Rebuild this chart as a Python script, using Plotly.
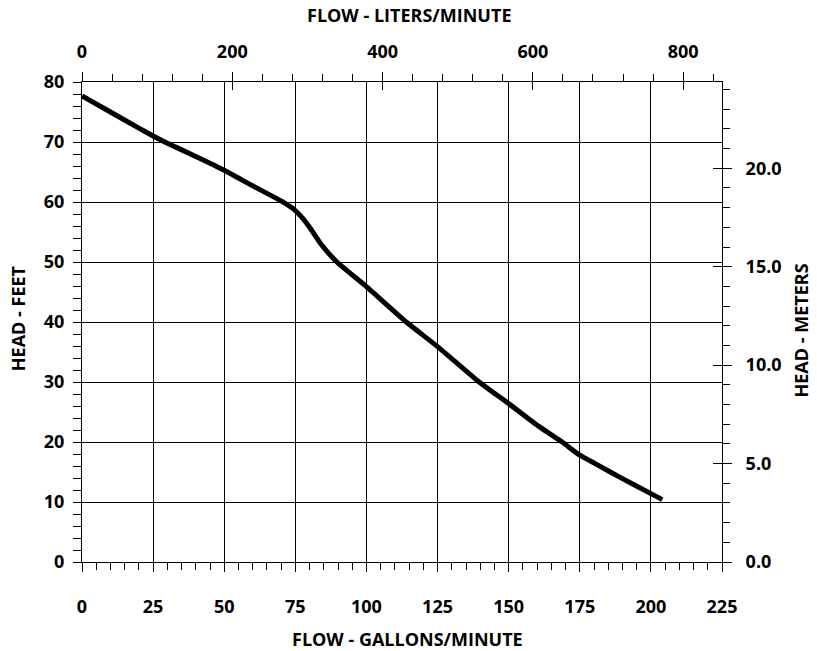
import plotly.graph_objects as go

# pump curve
gpm = [0, 10, 20, 25, 30, 40, 50, 60, 67.2, 71, 74.2, 77, 80, 84, 89.6,
       100, 114, 125, 139.6, 150, 160.6, 168.8, 175, 180.4, 190, 200, 204]
head_ft = [77.7, 75.0, 72.3, 71.0, 69.8, 67.6, 65.3, 62.7, 60.9, 59.9, 58.9,
           57.6, 55.8, 53.0, 50.0, 45.9, 40.0, 35.9, 30.0, 26.4, 22.6, 20.0,
           17.8, 16.4, 13.9, 11.4, 10.4]

L_PER_GAL = 3.78541
FT_PER_M = 3.28084
X_MAX = 225
Y_MAX = 80

FONT = "Open Sans"
tick_font = dict(family=FONT, size=18, color="black", weight="bold")
title_font = dict(family=FONT, size=18, color="black", weight="bold")

fig = go.Figure()
fig.add_trace(go.Scatter(x=gpm, y=head_ft, mode="lines",
                         line=dict(color="black", width=5, shape="spline", smoothing=0.5),
                         hoverinfo="skip", showlegend=False))
# invisible anchors so the metric axes get drawn
for ax in ("2", "3"):
    fig.add_trace(go.Scatter(x=[gpm[0] * L_PER_GAL], y=[head_ft[0] / FT_PER_M],
                             xaxis="x" + ax, yaxis="y" + ax, mode="markers",
                             marker=dict(opacity=0), hoverinfo="skip", showlegend=False))

common = dict(tickcolor="black", tickwidth=1, linecolor="black", linewidth=1,
              zeroline=False, tickfont=tick_font)

fig.update_layout(
    width=809, height=643,
    margin=dict(l=74, r=95, t=74, b=89),
    paper_bgcolor="white", plot_bgcolor="white",
    font=dict(family=FONT, color="black"),
    xaxis=dict(range=[0, X_MAX], dtick=25, showgrid=True, gridcolor="black", gridwidth=1,
               showline=True, ticks="outside", ticklen=9, ticklabelstandoff=19,
               minor=dict(dtick=5, ticks="outside", ticklen=7, tickcolor="black", showgrid=False),
               **common),
    yaxis=dict(range=[0, Y_MAX], dtick=10, showgrid=True, gridcolor="black", gridwidth=1,
               showline=True, ticks="outside", ticklen=8, ticklabelstandoff=5,
               minor=dict(dtick=2, ticks="outside", ticklen=8, tickcolor="black", showgrid=False),
               **common),
    xaxis2=dict(range=[0, X_MAX * L_PER_GAL], dtick=200, overlaying="x", side="top", anchor="y2",
                showgrid=False, showline=True, ticks="outside", ticklen=9, ticklabelstandoff=7,
                minor=dict(dtick=40, ticks="outside", ticklen=7, tickcolor="black", showgrid=False),
                **common),
    yaxis2=dict(range=[0, Y_MAX / FT_PER_M], dtick=5, tickformat=".1f", overlaying="y",
                side="right", anchor="x2", showgrid=False, showline=True, ticks="outside",
                ticklen=9, ticklabelstandoff=10,
                minor=dict(dtick=1, ticks="outside", ticklen=7, tickcolor="black", showgrid=False),
                **common),
    xaxis3=dict(range=[0, X_MAX * L_PER_GAL], dtick=200, overlaying="x", side="top", anchor="y3",
                showgrid=False, showline=False, showticklabels=False, ticks="inside",
                ticklen=8, tickcolor="black", zeroline=False),
    yaxis3=dict(range=[0, Y_MAX / FT_PER_M], dtick=5, overlaying="y", side="right", anchor="x3",
                showgrid=False, showline=False, showticklabels=False, ticks="inside",
                ticklen=9, tickcolor="black", zeroline=False),
    annotations=[
        dict(text="FLOW - GALLONS/MINUTE", xref="paper", yref="paper", x=0.509, y=-0.1604,
             showarrow=False, font=title_font, xanchor="center", yanchor="middle"),
        dict(text="FLOW - LITERS/MINUTE", xref="paper", yref="paper", x=0.511, y=1.139,
             showarrow=False, font=title_font, xanchor="center", yanchor="middle"),
        dict(text="HEAD - FEET", xref="paper", yref="paper", x=-0.1, y=0.508, textangle=-90,
             showarrow=False, font=title_font, xanchor="center", yanchor="middle"),
        dict(text="HEAD - METERS", xref="paper", yref="paper", x=1.124, y=0.483, textangle=-90,
             showarrow=False, font=title_font, xanchor="center", yanchor="middle"),
    ],
)

fig.write_html("out.html")
